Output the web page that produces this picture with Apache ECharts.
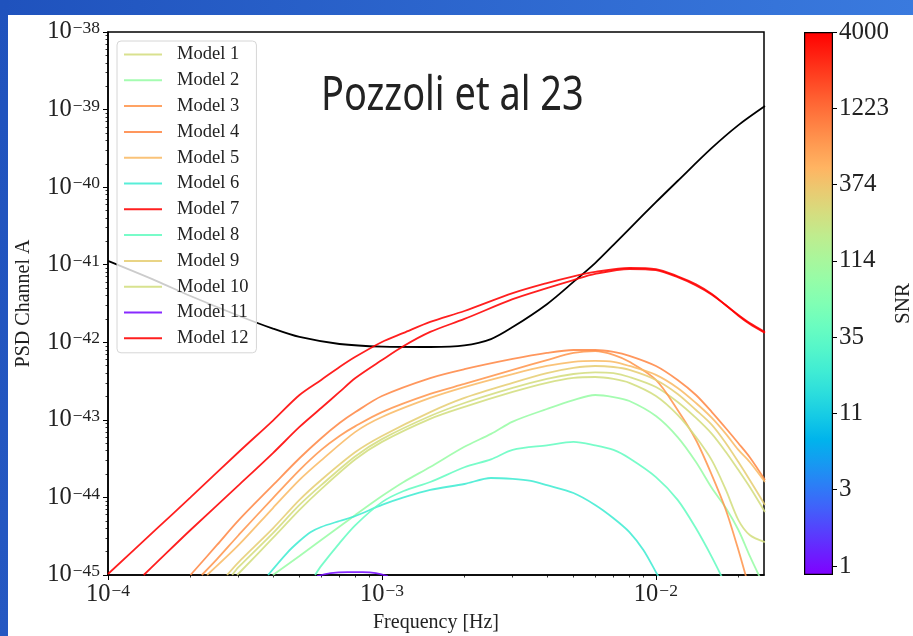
<!DOCTYPE html>
<html>
<head>
<meta charset="utf-8">
<script src="https://cdn.jsdelivr.net/npm/echarts@6/dist/echarts.min.js"></script>
<style>
html, body { margin: 0; padding: 0; background: #ffffff; }
#chart { width: 913px; height: 636px; }
</style>
</head>
<body>
<div id="chart"></div>
<script>
// Axis ranges
const xMin = 1e-4, xMax = 0.0248;
const yMin = 1e-45, yMax = 1e-38;
// PSD values are carried on the axis in units of 1e-45 to keep the log scale numerically safe
const psdUnit = 1e-45;

// Colour scale (SNR, log-normalised)
const snrMin = 0.87, snrMax = 4000;
const snrTickValues = [1, 3.27, 10.7, 35.0, 114.4, 374.1, 1223, 4000];
const snrTickLabels = ['1', '3', '11', '35', '114', '374', '1223', '4000'];

const modelNames = ['Model 1', 'Model 2', 'Model 3', 'Model 4', 'Model 5', 'Model 6',
                    'Model 7', 'Model 8', 'Model 9', 'Model 10', 'Model 11', 'Model 12'];
const modelSNR = [240, 89, 738, 873, 440, 21, 4000, 38, 320, 235, 1.0, 4000];

// Instrument sensitivity curve [frequency Hz, PSD]
const sensitivity = [[1e-4,1.12e-41],[1.5e-4,6.2e-42],[2e-4,3.95e-42],[3e-4,2.2e-42],[4e-4,1.5e-42],
  [5e-4,1.17e-42],[7e-4,9.5e-43],[1e-3,8.8e-43],[1.5e-3,8.7e-43],[2e-3,9.1e-43],[2.5e-3,1.1e-42],
  [3e-3,1.57e-42],[4e-3,3.1e-42],[5e-3,6.0e-42],[6e-3,1.05e-41],[7e-3,1.8e-41],[8e-3,2.9e-41],
  [1e-2,6.4e-41],[1.2e-2,1.2e-40],[1.6e-2,3.2e-40],[2e-2,6.3e-40],[2.5e-2,1.11e-39]];

// Model spectra [frequency Hz, PSD]
const model1 = [[2.84e-4,1.0e-45],[3e-4,1.27e-45],[4e-4,3.47e-45],[5e-4,8.0e-45],[6e-4,1.44e-44],[8e-4,3.4e-44],
  [1e-3,5.65e-44],[1.5e-3,1.12e-43],[2e-3,1.65e-43],[3e-3,2.58e-43],[4e-3,3.37e-43],[5e-3,3.9e-43],[6e-3,4.1e-43],
  [7e-3,4.0e-43],[8e-3,3.57e-43],[1e-2,2.65e-43],[1.2e-2,1.7e-43],[1.4e-2,1.06e-43],[1.6e-2,6.6e-44],
  [1.8e-2,3.85e-44],[2e-2,2.25e-44],[2.2e-2,1.36e-44],[2.5e-2,6.5e-45]];
const model2 = [[4e-4,1.0e-45],[5e-4,1.76e-45],[6e-4,2.83e-45],[8e-4,5.94e-45],[1e-3,1.04e-44],[1.2e-3,1.58e-44],
  [1.5e-3,2.47e-44],[2e-3,4.5e-44],[2.5e-3,6.6e-44],[3e-3,9.5e-44],[4e-3,1.38e-43],[5e-3,1.8e-43],[6e-3,2.09e-43],
  [7e-3,1.97e-43],[8e-3,1.75e-43],[1e-2,1.12e-43],[1.2e-2,6.0e-44],[1.4e-2,2.86e-44],[1.6e-2,1.32e-44],
  [1.8e-2,7.3e-45],[2e-2,3.8e-45],[2.2e-2,1.76e-45],[2.4e-2,9.2e-46]];
const model3 = [[2.2e-4,1.0e-45],[2.5e-4,1.6e-45],[3e-4,3.28e-45],[4e-4,9.8e-45],[5e-4,2.25e-44],[6e-4,4.1e-44],
  [7e-4,6.2e-44],[8e-4,8.3e-44],[1e-3,1.26e-43],[1.5e-3,2.16e-43],[2e-3,2.9e-43],[3e-3,4.4e-43],[4e-3,5.9e-43],
  [5e-3,7.3e-43],[6e-3,7.7e-43],[7e-3,6.9e-43],[8e-3,5.6e-43],[1e-2,3.27e-43],[1.2e-2,1.34e-43],[1.4e-2,5.5e-44],
  [1.6e-2,1.94e-44],[1.8e-2,6.9e-45],[2e-2,2.1e-45],[2.2e-2,6.4e-46]];
const model4 = [[2e-4,1.0e-45],[2.5e-4,2.44e-45],[3e-4,5.1e-45],[4e-4,1.44e-44],[5e-4,3.2e-44],[6e-4,5.8e-44],
  [7e-4,9.1e-44],[8e-4,1.26e-43],[1e-3,2.03e-43],[1.5e-3,3.46e-43],[2e-3,4.5e-43],[3e-3,6.1e-43],[4e-3,7.3e-43],
  [5e-3,7.95e-43],[6e-3,7.95e-43],[7e-3,7.5e-43],[8e-3,6.7e-43],[1e-2,4.95e-43],[1.2e-2,3.27e-43],[1.4e-2,2.09e-43],
  [1.6e-2,1.26e-43],[1.8e-2,7.8e-44],[2e-2,5.0e-44],[2.2e-2,3.3e-44],[2.5e-2,1.68e-44]];
const model5 = [[2.3e-4,1.0e-45],[3e-4,2.44e-45],[4e-4,7.3e-45],[5e-4,1.68e-44],[6e-4,3.0e-44],[8e-4,7.0e-44],
  [1e-3,1.09e-43],[1.5e-3,1.92e-43],[2e-3,2.65e-43],[3e-3,3.9e-43],[4e-3,4.95e-43],[5e-3,5.6e-43],[6e-3,5.75e-43],
  [7e-3,5.6e-43],[8e-3,4.95e-43],[1e-2,3.8e-43],[1.2e-2,2.58e-43],[1.4e-2,1.65e-43],[1.6e-2,1.06e-43],
  [1.8e-2,6.6e-44],[2e-2,4.1e-44],[2.2e-2,2.86e-44],[2.5e-2,1.58e-44]];
const model6 = [[3.84e-4,1.0e-45],[4.5e-4,1.92e-45],[5e-4,2.74e-45],[5.5e-4,3.58e-45],[6e-4,4.16e-45],[7e-4,4.97e-45],
  [8e-4,5.76e-45],[1e-3,8.0e-45],[1.2e-3,1.0e-44],[1.5e-3,1.25e-44],[2e-3,1.49e-44],[2.5e-3,1.78e-44],[3e-3,1.73e-44],
  [3.5e-3,1.63e-44],[4e-3,1.44e-44],[5e-3,1.14e-44],[6e-3,8.0e-45],[7e-3,5.4e-45],[8e-3,3.58e-45],[9e-3,2.1e-45],
  [1e-2,1.09e-45],[1.05e-2,8e-46]];
const model7 = [[1.35e-4,1.0e-45],[1.5e-4,1.43e-45],[2e-4,3.8e-45],[3e-4,1.44e-44],[4e-4,3.73e-44],[5e-4,8.1e-44],
  [6e-4,1.42e-43],[7e-4,2.29e-43],[8e-4,3.46e-43],[1e-3,5.9e-43],[1.2e-3,8.95e-43],[1.5e-3,1.36e-42],[2e-3,2.0e-42],
  [3e-3,3.6e-42],[4e-3,5.0e-42],[5e-3,6.35e-42],[6e-3,7.6e-42],[8e-3,8.8e-42],[1e-2,8.5e-42],[1.2e-2,6.9e-42],
  [1.4e-2,5.4e-42],[1.6e-2,4.1e-42],[1.8e-2,3.0e-42],[2e-2,2.2e-42],[2.2e-2,1.72e-42],[2.5e-2,1.32e-42]];
const model8 = [[5.7e-4,1.0e-45],[6e-4,1.31e-45],[7e-4,2.58e-45],[8e-4,4.4e-45],[1e-3,8.7e-45],[1.2e-3,1.21e-44],
  [1.5e-3,1.58e-44],[2e-3,2.45e-44],[2.5e-3,3.1e-44],[3e-3,4.1e-44],[4e-3,4.7e-44],[5e-3,5.2e-44],[6e-3,4.7e-44],
  [7e-3,4.1e-44],[8e-3,3.2e-44],[1e-2,1.83e-44],[1.2e-2,9.3e-45],[1.4e-2,4.0e-45],[1.6e-2,1.7e-45],[1.8e-2,7.4e-46]];
const model9 = [[2.72e-4,1.0e-45],[3e-4,1.47e-45],[4e-4,4.0e-45],[5e-4,9.3e-45],[6e-4,1.68e-44],[8e-4,3.85e-44],
  [1e-3,6.2e-44],[1.5e-3,1.26e-43],[2e-3,1.92e-43],[3e-3,3.0e-43],[4e-3,4.0e-43],[5e-3,4.67e-43],[6e-3,4.95e-43],
  [7e-3,4.8e-43],[8e-3,4.4e-43],[1e-2,3.27e-43],[1.2e-2,2.16e-43],[1.4e-2,1.34e-43],[1.6e-2,8.6e-44],
  [1.8e-2,5.0e-44],[2e-2,2.86e-44],[2.2e-2,1.68e-44],[2.5e-2,8.0e-45]];
const model10 = [[2.96e-4,1.0e-45],[4e-4,3.0e-45],[5e-4,6.9e-45],[6e-4,1.28e-44],[8e-4,3.1e-44],[1e-3,5.2e-44],
  [1.5e-3,1.03e-43],[2e-3,1.47e-43],[3e-3,2.29e-43],[4e-3,3.0e-43],[5e-3,3.47e-43],[6e-3,3.57e-43],[7e-3,3.37e-43],
  [8e-3,3.0e-43],[1e-2,2.03e-43],[1.2e-2,1.16e-43],[1.4e-2,6.0e-44],[1.6e-2,3.0e-44],[1.8e-2,1.25e-44],
  [2e-2,5.1e-45],[2.2e-2,3.28e-45],[2.5e-2,2.66e-45]];
const model11 = [[5.8e-4,9.7e-46],[6.5e-4,1.06e-45],[7.5e-4,1.09e-45],[8.5e-4,1.09e-45],[9.5e-4,1.06e-45],[1.05e-3,9.7e-46]];
const model12 = [[1e-4,1.03e-45],[1.5e-4,3.9e-45],[2e-4,1.0e-44],[3e-4,3.85e-44],[4e-4,9.8e-44],[5e-4,2.09e-43],
  [6e-4,3.27e-43],[7e-4,4.8e-43],[8e-4,6.5e-43],[1e-3,1.01e-42],[1.2e-3,1.32e-42],[1.5e-3,1.83e-42],[2e-3,2.53e-42],
  [3e-3,4.3e-42],[4e-3,5.8e-42],[5e-3,7.1e-42],[6e-3,8.06e-42],[8e-3,9.1e-42],[1e-2,8.8e-42],[1.2e-2,7.1e-42],
  [1.4e-2,5.6e-42],[1.6e-2,4.2e-42],[1.8e-2,3.0e-42],[2e-2,2.25e-42],[2.2e-2,1.77e-42],[2.5e-2,1.36e-42]];

const modelData = [model1, model2, model3, model4, model5, model6, model7, model8, model9, model10, model11, model12];

const SERIF = '"Liberation Serif", "DejaVu Serif", serif';
const unitExp = Math.round(Math.log10(psdUnit));

// matplotlib-style "rainbow" colormap
function rainbow(u, alpha) {
  u = Math.max(0, Math.min(1, u));
  const r = Math.min(1, Math.abs(2 * u - 0.5));
  const g = Math.sin(Math.PI * u);
  const b = Math.cos(Math.PI * u / 2);
  return 'rgba(' + Math.round(255 * r) + ',' + Math.round(255 * g) + ',' + Math.round(255 * b) + ',' + (alpha == null ? 1 : alpha) + ')';
}
function snrNorm(v) {
  return (Math.log10(v) - Math.log10(snrMin)) / (Math.log10(snrMax) - Math.log10(snrMin));
}
function toAxisUnits(points) {
  return points.map(function (p) { return [p[0], p[1] / psdUnit]; });
}
function powerText(e) {
  return '{b|10}{e|' + (e < 0 ? '\u2212' : '') + Math.abs(e) + '}';
}
function xLabel(v) {
  const lg = Math.log10(v), e = Math.round(lg);
  return Math.abs(lg - e) > 1e-6 ? '' : powerText(e);
}
function yLabel(v) {
  const lg = Math.log10(v), e = Math.round(lg);
  return Math.abs(lg - e) > 1e-6 ? '' : powerText(e + unitExp);
}
const powerRich = {
  b: { fontFamily: SERIF, fontSize: 24.5, lineHeight: 25, color: '#222', verticalAlign: 'bottom' },
  e: { fontFamily: SERIF, fontSize: 17.5, lineHeight: 12, color: '#222', verticalAlign: 'top', padding: [0, 0, 0, 1] }
};

// minor tick positions (log10 units) for 2..9 x 10^k
function minorLogTicks(lo, hi) {
  const out = [];
  for (let k = Math.floor(lo); k <= Math.ceil(hi); k++) {
    for (let m = 2; m <= 9; m++) {
      const v = k + Math.log10(m);
      if (v > lo && v < hi) out.push(v);
    }
  }
  return out;
}

const series = [{
  name: 'sensitivity',
  type: 'line',
  xAxisIndex: 0, yAxisIndex: 0,
  data: toAxisUnits(sensitivity),
  smooth: 0.3,
  showSymbol: false,
  symbol: 'none',
  color: '#000000',
  lineStyle: { width: 1.8, color: '#000000' },
  z: 2
}];
modelNames.forEach(function (name, i) {
  const col = rainbow(snrNorm(modelSNR[i]), 0.88);
  series.push({
    name: name,
    type: 'line',
    xAxisIndex: 0, yAxisIndex: 0,
    data: toAxisUnits(modelData[i]),
    smooth: 0.3,
    showSymbol: false,
    symbol: 'none',
    color: col,
    lineStyle: { width: 1.8, color: col },
    z: 3
  });
});

// colour bar
const gradStops = [];
for (let i = 0; i <= 24; i++) {
  gradStops.push({ offset: i / 24, color: rainbow(1 - i / 24) });
}
const snrTickPos = snrTickValues.map(snrNorm);
series.push({
  type: 'bar',
  xAxisIndex: 2, yAxisIndex: 2,
  data: [1],
  barWidth: '100%',
  silent: true,
  itemStyle: {
    color: new echarts.graphic.LinearGradient(0, 0, 0, 1, gradStops),
    borderColor: '#000',
    borderWidth: 1.2
  }
});

const chart = echarts.init(document.getElementById('chart'), null, { renderer: 'canvas' });
chart.setOption({
  animation: false,
  backgroundColor: '#ffffff',
  graphic: [
    { type: 'rect', left: 0, top: 0, shape: { width: 913, height: 15 }, z: -10,
      style: { fill: new echarts.graphic.LinearGradient(0, 0, 1, 0, [{ offset: 0, color: '#1f52bd' }, { offset: 1, color: '#3a7ade' }]) } },
    { type: 'rect', left: 0, top: 0, shape: { width: 8, height: 636 }, z: -10,
      style: { fill: new echarts.graphic.LinearGradient(0, 0, 0, 1, [{ offset: 0, color: '#1f52bd' }, { offset: 1, color: '#2558c2' }]) } },
    { type: 'text', x: 321, y: 96, scaleX: 0.79, z: 10,
      style: { text: 'Pozzoli et al 23', x: 0, y: 0, fill: '#222', font: '48px "Noto Sans", sans-serif', textAlign: 'left', textVerticalAlign: 'middle' } }
  ],
  legend: {
    data: modelNames,
    orient: 'vertical',
    left: 117, top: 41,
    padding: [4, 8, 5, 7],
    itemGap: 6.8,
    itemWidth: 38, itemHeight: 2,
    icon: 'rect',
    backgroundColor: 'rgba(255,255,255,0.8)',
    borderColor: '#d6d6d6', borderWidth: 1, borderRadius: 4,
    textStyle: { fontFamily: SERIF, fontSize: 18.5, lineHeight: 19, color: '#222', padding: [0, 0, 0, 10] },
    selectedMode: false
  },
  grid: [
    { left: 108, top: 32, width: 656, height: 543, outerBoundsMode: 'none', containLabel: false,
      show: true, borderColor: '#000', borderWidth: 1.5, backgroundColor: 'transparent' },
    { left: 804, top: 32, width: 29, height: 543, outerBoundsMode: 'none', containLabel: false, show: false }
  ],
  xAxis: [
    { type: 'log', gridIndex: 0, logBase: 10, min: xMin, max: xMax,
      name: 'Frequency [Hz]', nameLocation: 'middle', nameGap: 38,
      nameTextStyle: { fontFamily: SERIF, fontSize: 20, color: '#222' },
      axisLine: { onZero: false, lineStyle: { color: '#000', width: 1.5 } },
      axisTick: { length: 5, lineStyle: { color: '#000', width: 1 } },
      axisLabel: { formatter: xLabel, rich: powerRich, margin: 7, showMaxLabel: false },
      splitLine: { show: false } },
    { type: 'value', gridIndex: 0, min: Math.log10(xMin), max: Math.log10(xMax), position: 'bottom',
      axisLine: { show: false, onZero: false },
      axisTick: { show: true, length: 2.5, customValues: minorLogTicks(Math.log10(xMin), Math.log10(xMax)), lineStyle: { color: '#000', width: 0.8 } },
      axisLabel: { show: false }, splitLine: { show: false } },
    { type: 'category', gridIndex: 1, data: ['SNR'], show: false }
  ],
  yAxis: [
    { type: 'log', gridIndex: 0, logBase: 10, min: yMin / psdUnit, max: yMax / psdUnit,
      name: 'PSD Channel A', nameLocation: 'middle', nameGap: 74, nameRotate: 90,
      nameTextStyle: { fontFamily: SERIF, fontSize: 20, color: '#222' },
      axisLine: { onZero: false, lineStyle: { color: '#000', width: 1.5 } },
      axisTick: { length: 5, lineStyle: { color: '#000', width: 1 } },
      axisLabel: { formatter: yLabel, rich: powerRich, margin: 8 },
      splitLine: { show: false } },
    { type: 'value', gridIndex: 0, min: Math.log10(yMin), max: Math.log10(yMax), position: 'left',
      axisLine: { show: false, onZero: false },
      axisTick: { show: true, length: 2.5, customValues: minorLogTicks(Math.log10(yMin), Math.log10(yMax)), lineStyle: { color: '#000', width: 0.8 } },
      axisLabel: { show: false }, splitLine: { show: false } },
    { type: 'value', gridIndex: 1, min: 0, max: 1, position: 'right',
      name: 'SNR', nameLocation: 'middle', nameGap: 58, nameRotate: 90,
      nameTextStyle: { fontFamily: SERIF, fontSize: 21, color: '#222' },
      axisLine: { show: false, onZero: false },
      axisTick: { show: true, length: 4, customValues: snrTickPos, lineStyle: { color: '#000', width: 1 } },
      axisLabel: { show: true, customValues: snrTickPos, margin: 6, fontFamily: SERIF, fontSize: 25, color: '#222',
        formatter: function (v) {
          let best = 0;
          snrTickPos.forEach(function (p, i) { if (Math.abs(p - v) < Math.abs(snrTickPos[best] - v)) best = i; });
          return snrTickLabels[best];
        } },
      splitLine: { show: false } }
  ],
  series: series
});
</script>
</body>
</html>
